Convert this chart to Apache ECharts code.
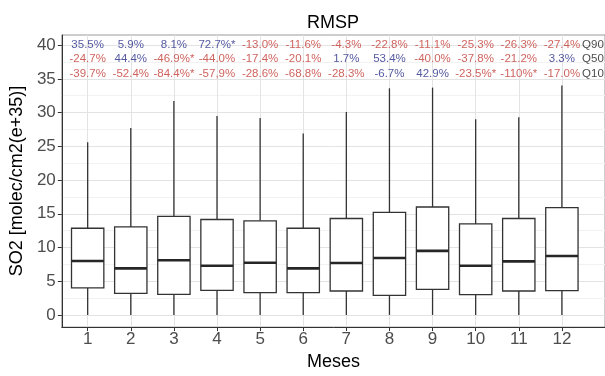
<!DOCTYPE html>
<html>
<head>
<meta charset="utf-8">
<script src="https://cdn.jsdelivr.net/npm/echarts@6/dist/echarts.min.js"></script>
<style>html,body{margin:0;padding:0;background:#fff;}#c{width:605px;height:376px;}</style>
</head>
<body>
<div id="c"></div>
<script>
// ---- data ----
const months = [1,2,3,4,5,6,7,8,9,10,11,12];
const whiskerLow  = [0,0,0,0,0,0,0,0,0,0,0,0];
const q1          = [4.0,3.2,3.05,3.65,3.3,3.3,3.55,2.9,3.8,3.0,3.55,3.6];
const median      = [8.0,6.9,8.1,7.3,7.75,6.9,7.7,8.45,9.5,7.3,7.95,8.75];
const q3          = [12.85,13.05,14.6,14.15,13.95,12.85,14.3,15.2,16.0,13.5,14.3,15.9];
const whiskerHigh = [25.6,27.7,31.7,29.5,29.2,26.9,30.1,33.6,33.7,29.0,29.3,34.0];

const q90Text = ['35.5%','5.9%','8.1%','72.7%*','-13.0%','-11.6%','-4.3%','-22.8%','-11.1%','-25.3%','-26.3%','-27.4%'];
const q50Text = ['-24.7%','44.4%','-46.9%*','-44.0%','-17.4%','-20.1%','1.7%','53.4%','-40.0%','-37.8%','-21.2%','3.3%'];
const q10Text = ['-39.7%','-52.4%','-84.4%*','-57,9%','-28.6%','-68.8%','-28.3%','-6.7%','42.9%','-23.5%*','-110%*','-17.0%'];
// direction of change (1 = increase / blue, -1 = decrease / red)
const q90Dir = [1,1,1,1,-1,-1,-1,-1,-1,-1,-1,-1];
const q50Dir = [-1,1,-1,-1,-1,-1,1,1,-1,-1,-1,1];
const q10Dir = [-1,-1,-1,-1,-1,-1,-1,1,1,-1,-1,-1];
const rowNames = ['Q90','Q50','Q10'];
const rowY = [40.1, 37.9, 35.7];
const rowNameX = 12.72;

const yTicks = [0,5,10,15,20,25,30,35,40];
const yMinor = [2.5,7.5,12.5,17.5,22.5,27.5,32.5,37.5];

// ---- chart ----
const FONT = "'Liberation Sans', Arial, sans-serif";
const BLUE = '#282e88', RED = '#c23b35';
const chart = echarts.init(document.getElementById('c'), null, {renderer:'canvas'});

const boxData = months.map((m,i)=>[m, whiskerLow[i], q1[i], median[i], q3[i], whiskerHigh[i]]);

function textSeries(texts, dirs, y, name){
  const data = texts.map((t,i)=>({value:[months[i], y, t], label:{color: dirs[i] > 0 ? BLUE : RED}}));
  data.push({value:[rowNameX, y, name], label:{color:'#1a1a1a'}});
  return {
    type:'scatter', symbolSize:0, silent:true, z:5,
    data,
    label:{show:true, position:'inside', formatter:p=>p.value[2], fontFamily:FONT, fontSize:11.5}
  };
}

const option = {
  animation:false,
  backgroundColor:'#fff',
  title:{text:'RMSP', left:333, top:14, padding:0, textAlign:'center',
    textStyle:{fontFamily:FONT, fontSize:18, fontWeight:'normal', color:'#000'}},
  grid:{left:61, right:0, top:35, bottom:41, show:true, borderColor:'#9a9a9a', borderWidth:1, backgroundColor:'#fff'},
  xAxis:{
    type:'value', min:0.4, max:13.0,
    name:'Meses', nameLocation:'middle', nameGap:25,
    nameTextStyle:{fontFamily:FONT, fontSize:18, color:'#000'},
    axisLine:{show:true, onZero:false, lineStyle:{color:'#333', width:1}},
    axisTick:{show:true, length:4, customValues:months, lineStyle:{color:'#333'}},
    axisLabel:{customValues:months, fontFamily:FONT, fontSize:17, color:'#4d4d4d', margin:4, formatter:v=>String(v)},
    splitLine:{show:true, lineStyle:{color:'#e3e3e3', width:1}}
  },
  yAxis:[{
    type:'value', min:-1.8, max:41.5,
    name:'SO2 [molec/cm2(e+35)]', nameLocation:'middle', nameGap:34,
    nameTextStyle:{fontFamily:FONT, fontSize:18, color:'#000'},
    axisLine:{show:true, lineStyle:{color:'#333', width:1}},
    axisTick:{show:true, length:4, customValues:yTicks, lineStyle:{color:'#333'}},
    axisLabel:{customValues:yTicks, fontFamily:FONT, fontSize:17, color:'#4d4d4d', margin:6},
    splitLine:{show:true, lineStyle:{color:'#e3e3e3', width:1}}
  },{
    type:'value', min:-1.8, max:41.5, position:'left',
    axisLine:{show:false}, axisLabel:{show:false},
    axisTick:{show:false, customValues:yMinor},
    splitLine:{show:true, lineStyle:{color:'#f2f2f2', width:1}}
  }],
  series:[
    {
      type:'custom', z:3, data:boxData,
      encode:{x:0, y:[1,2,3,4,5]},
      renderItem:function(params, api){
        const x = api.value(0);
        const pLo = api.coord([x, api.value(1)]);
        const pQ1 = api.coord([x, api.value(2)]);
        const pMed = api.coord([x, api.value(3)]);
        const pQ3 = api.coord([x, api.value(4)]);
        const pHi = api.coord([x, api.value(5)]);
        const w = api.size([0.75, 0])[0];
        const cx = pLo[0];
        const st = {stroke:'#333', lineWidth:1.3};
        return {type:'group', children:[
          {type:'line', shape:{x1:cx, y1:pQ3[1], x2:cx, y2:pHi[1]}, style:st},
          {type:'line', shape:{x1:cx, y1:pQ1[1], x2:cx, y2:pLo[1]}, style:st},
          {type:'rect', shape:{x:cx-w/2, y:pQ3[1], width:w, height:pQ1[1]-pQ3[1]}, style:{fill:'#fff', stroke:'#333', lineWidth:1.3}},
          {type:'line', shape:{x1:cx-w/2, y1:pMed[1], x2:cx+w/2, y2:pMed[1]}, style:{stroke:'#262626', lineWidth:2.6}}
        ]};
      }
    },
    textSeries(q90Text, q90Dir, rowY[0], rowNames[0]),
    textSeries(q50Text, q50Dir, rowY[1], rowNames[1]),
    textSeries(q10Text, q10Dir, rowY[2], rowNames[2])
  ]
};
chart.setOption(option);
</script>
</body>
</html>
